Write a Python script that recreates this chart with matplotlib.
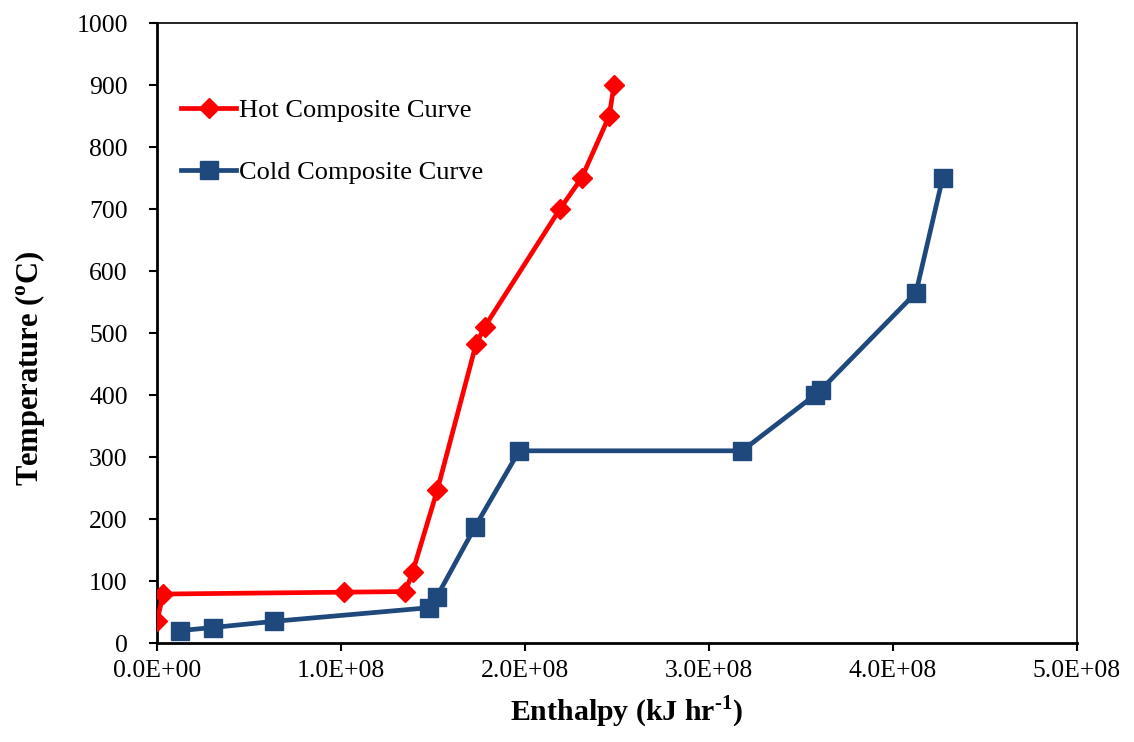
import matplotlib.pyplot as plt
from matplotlib.ticker import FuncFormatter, MultipleLocator

plt.rcParams['font.family'] = ['Liberation Serif', 'DejaVu Serif']
plt.rcParams['mathtext.fontset'] = 'custom'
plt.rcParams['mathtext.rm'] = 'Liberation Serif'
plt.rcParams['mathtext.bf'] = 'Liberation Serif:bold'

# Hot composite curve (enthalpy kJ/hr, temperature C)
hot_h = [0.0, 0.034e8, 1.016e8, 1.350e8, 1.390e8, 1.523e8, 1.734e8, 1.781e8,
         2.190e8, 2.308e8, 2.458e8, 2.484e8]
hot_t = [35, 79, 82, 83, 115, 246, 482, 510, 700, 750, 850, 900]

# Cold composite curve
cold_h = [0.125e8, 0.303e8, 0.638e8, 1.480e8, 1.520e8, 1.728e8, 1.969e8,
          3.180e8, 3.576e8, 3.607e8, 4.125e8, 4.270e8]
cold_t = [20, 25, 35, 57, 74, 187, 310, 310, 400, 408, 565, 750]

fig = plt.figure(figsize=(11.34, 7.42), dpi=100)
ax = fig.add_axes([0.1384, 0.1334, 0.8113, 0.8356])

ax.plot(hot_h, hot_t, color='#FF0000', lw=3.4, marker='D', ms=10,
        label='Hot Composite Curve', zorder=3)
ax.plot(cold_h, cold_t, color='#1F497D', lw=3.4, marker='s', ms=13.5,
        label='Cold Composite Curve', zorder=2)

ax.set_xlim(0, 5e8)
ax.set_ylim(0, 1000)
ax.xaxis.set_major_locator(MultipleLocator(1e8))
ax.yaxis.set_major_locator(MultipleLocator(100))
ax.xaxis.set_major_formatter(FuncFormatter(lambda v, p: '%.1E' % v))
ax.tick_params(direction='out', length=6, width=1.5, labelsize=18.5)
ax.tick_params(axis='y', pad=15)
ax.tick_params(axis='x', pad=6)
for s in ax.spines.values():
    s.set_linewidth(1.2)
ax.spines['left'].set_linewidth(2)
ax.spines['bottom'].set_linewidth(2)

fig.text(627 / 1134, 1 - 712 / 742, r'Enthalpy (kJ hr$^{\mathbf{‐1}}$)',
         fontsize=21.5, fontweight='bold', ha='center', va='center')
fig.text(30 / 1134, 1 - 368 / 742, r'Temperature ($^{\mathbf{o}}$C)',
         fontsize=22, fontweight='bold', ha='center', va='center', rotation=90)

ax.legend(loc='center left', bbox_to_anchor=(0.0147, 0.809), frameon=False,
          borderaxespad=0, fontsize=19, handlelength=2.1, handletextpad=0.1,
          labelspacing=1.48)

fig.savefig('out.png', dpi=100)
